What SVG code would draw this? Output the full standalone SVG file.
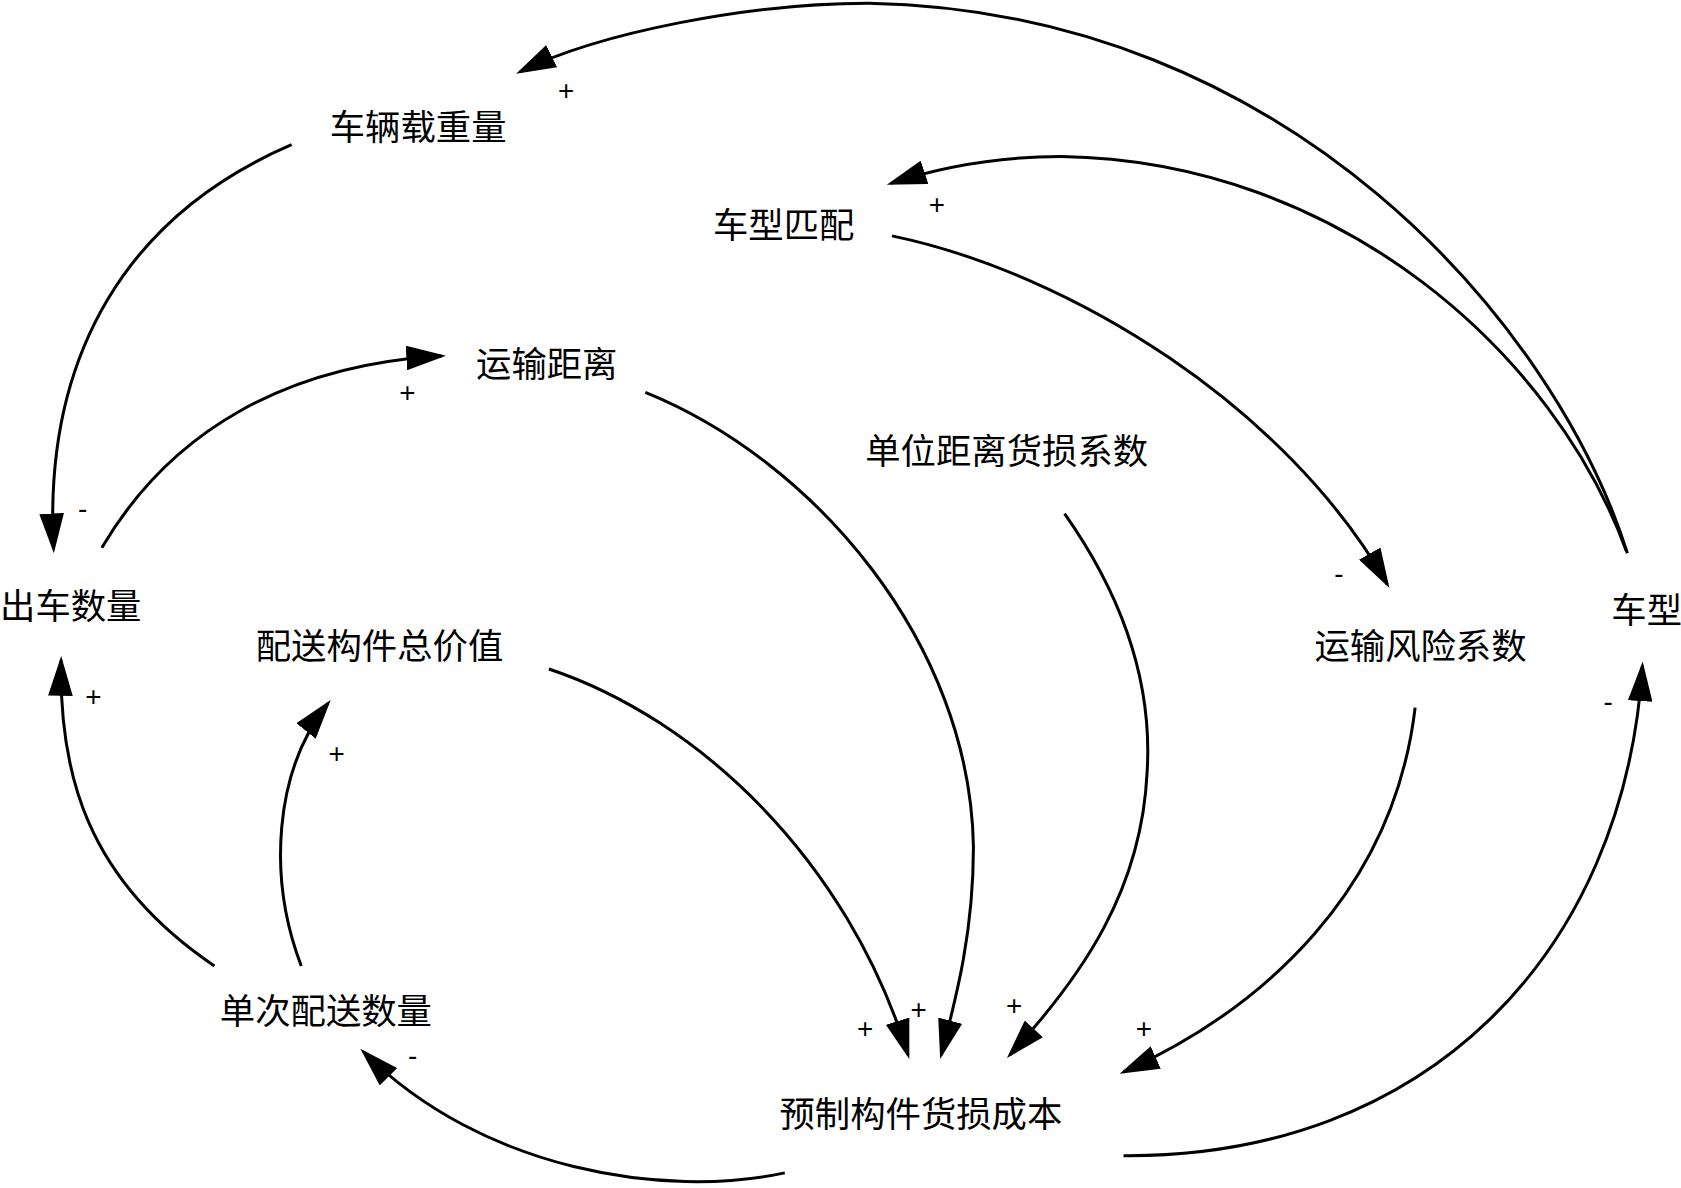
<svg xmlns="http://www.w3.org/2000/svg" width="1681" height="1188" viewBox="0 0 1681 1188">
<style>
.node{font-family:"Noto Sans CJK SC","Noto Sans",sans-serif;font-size:33px;fill:#000;text-anchor:middle}
.sign{font-family:"Liberation Sans",Arial,sans-serif;font-size:26px;fill:#000;text-anchor:middle;dominant-baseline:central}
.link{fill:none;stroke:#000;stroke-width:2.8;marker-end:url(#arrow)}
</style>
<defs>
<marker id="arrow" viewBox="0 0 37 23" markerWidth="37" markerHeight="23" refX="33" refY="11.5" markerUnits="userSpaceOnUse" orient="auto">
<path d="M0,0 L37,11.5 L0,23 Z" fill="#000"/>
</marker>
</defs>
<rect width="1681" height="1188" fill="#fff"/>
<g transform="scale(1.07207)">
<g id="connectors">
<path class="link" d="M1518,516 C1450,300 1200,10 810,3 C700,3 560,30 485,67"/>
<path class="link" d="M1517,514 C1450,330 1250,150 990,146 C930,146 880,155 831,171"/>
<path class="link" d="M832,220 C1000,255 1200,380 1294,545"/>
<path class="link" d="M272,135 C120,200 40,330 50,512"/>
<path class="link" d="M95,511 C160,400 270,340 412,332"/>
<path class="link" d="M602,366 C760,430 905,600 908,790 C908,870 892,930 878,984"/>
<path class="link" d="M993,479 C1050,560 1075,640 1070,720 C1065,830 1010,910 942,984"/>
<path class="link" d="M512,624 C650,670 790,800 847,984"/>
<path class="link" d="M1320,660 C1300,830 1180,940 1048,1000"/>
<path class="link" d="M732,1094 C620,1118 450,1092 339,981"/>
<path class="link" d="M1048,1078 C1330,1080 1515,890 1532,621"/>
<path class="link" d="M200,901 C80,820 55,720 57,616"/>
<path class="link" d="M281,901 C250,820 255,720 306,656"/>
<text class="sign" x="528" y="84">+</text>
<text class="sign" x="874" y="191">+</text>
<text class="sign" x="1249" y="535">-</text>
<text class="sign" x="77" y="474">-</text>
<text class="sign" x="380" y="366">+</text>
<text class="sign" x="857" y="942">+</text>
<text class="sign" x="946" y="938">+</text>
<text class="sign" x="807" y="959">+</text>
<text class="sign" x="1067" y="959">+</text>
<text class="sign" x="385" y="985">-</text>
<text class="sign" x="1500" y="654">-</text>
<text class="sign" x="87" y="650">+</text>
<text class="sign" x="314" y="703">+</text>
</g>
<g id="n-vehicle-load"><text class="node" x="390" y="131">车辆载重量</text></g>
<g id="n-vehicle-match"><text class="node" x="731" y="222">车型匹配</text></g>
<g id="n-distance"><text class="node" x="510" y="352">运输距离</text></g>
<g id="n-unit-loss"><text class="node" x="939" y="433">单位距离货损系数</text></g>
<g id="n-trips"><text class="node" x="66" y="577">出车数量</text></g>
<g id="n-total-value"><text class="node" x="354" y="615">配送构件总价值</text></g>
<g id="n-risk"><text class="node" x="1325" y="615">运输风险系数</text></g>
<g id="n-vehicle-type"><text class="node" x="1536" y="581">车型</text></g>
<g id="n-batch"><text class="node" x="304" y="955">单次配送数量</text></g>
<g id="n-loss-cost"><text class="node" x="859" y="1051">预制构件货损成本</text></g>
</g>
</svg>
